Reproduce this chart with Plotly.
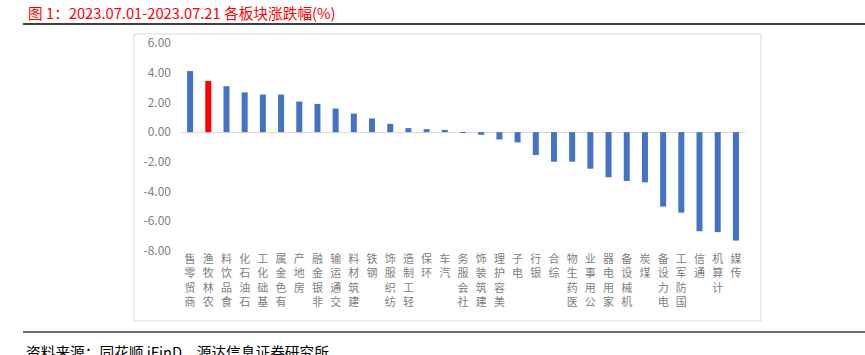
import plotly.graph_objects as go

categories = ["商贸零售", "农林牧渔", "食品饮料", "石油石化", "基础化工", "有色金属", "房地产",
              "非银金融", "交通运输", "建筑材料", "钢铁", "纺织服饰", "轻工制造", "环保", "汽车",
              "社会服务", "建筑装饰", "美容护理", "电子", "银行", "综合", "医药生物", "公用事业",
              "家用电器", "机械设备", "煤炭", "电力设备", "国防军工", "通信", "计算机", "传媒"]
values = [4.11, 3.44, 3.09, 2.68, 2.53, 2.53, 2.06, 1.90, 1.59, 1.25, 0.92, 0.56, 0.27, 0.20, 0.15,
          -0.05, -0.18, -0.49, -0.69, -1.54, -1.99, -1.99, -2.46, -3.04, -3.29, -3.38, -5.01,
          -5.42, -6.67, -6.73, -7.30]
highlight = "农林牧渔"
y_ticks = [6, 4, 2, 0, -2, -4, -6, -8]

W, H = 865, 355
L, R, T, B = 181, 745, 43, 251  # plot area in pixels


def px_x(px):
    return (px - L) / (R - L)


def px_y(py):
    return (B - py) / (B - T)


colors = ["#FF0000" if c == highlight else "#4472C4" for c in categories]
ticktext = ["<br>".join(reversed(list(c))) for c in categories]

fig = go.Figure(go.Bar(x=list(range(len(categories))), y=values, marker_color=colors,
                       marker_line_width=0, width=0.33))

font_cjk = "Noto Sans CJK SC"
fig.update_layout(
    width=W, height=H,
    margin=dict(l=L, r=W - R, t=T, b=H - B, pad=0),
    plot_bgcolor="white", paper_bgcolor="white",
    showlegend=False,
    font=dict(family=font_cjk, color="#7F7F7F"),
    xaxis=dict(range=[-0.5, len(categories) - 0.5], tickmode="array",
               tickvals=list(range(len(categories))), ticktext=ticktext,
               tickangle=0, tickfont=dict(size=11, color="#808080"),
               showgrid=False, zeroline=False, showline=False, ticks=""),
    yaxis=dict(range=[-8, 6], tickmode="array", tickvals=y_ticks,
               ticktext=[f"{v:.2f}" for v in y_ticks],
               tickfont=dict(size=12, color="#808080"), ticklabelstandoff=9,
               showgrid=False, zeroline=True, zerolinecolor="#D9D9D9", zerolinewidth=1,
               showline=False, ticks=""),
    shapes=[
        dict(type="rect", xref="paper", yref="paper", x0=px_x(134), x1=px_x(761),
             y0=px_y(321), y1=px_y(34), line=dict(color="#D9D9D9", width=1), layer="below"),
        dict(type="line", xref="paper", yref="paper", x0=px_x(23), x1=px_x(865),
             y0=px_y(24), y1=px_y(24), line=dict(color="#000000", width=1.5)),
        dict(type="line", xref="paper", yref="paper", x0=px_x(23), x1=px_x(865),
             y0=px_y(332), y1=px_y(332), line=dict(color="#404040", width=1.5)),
    ],
    annotations=[
        dict(xref="paper", yref="paper", x=px_x(26), y=px_y(12), xanchor="left", yanchor="middle",
             text="图 1：2023.07.01-2023.07.21 各板块涨跌幅(%)", showarrow=False,
             font=dict(size=14.7, color="#FF0000", family=font_cjk)),
        dict(xref="paper", yref="paper", x=px_x(24), y=px_y(351), xanchor="left", yanchor="middle",
             text="资料来源：同花顺 iFinD，源达信息证券研究所", showarrow=False,
             font=dict(size=14.7, color="#000000", family=font_cjk)),
    ],
)

fig.write_html("out.html", config={"displayModeBar": False},
               post_script="document.body.style.margin='0px';")
